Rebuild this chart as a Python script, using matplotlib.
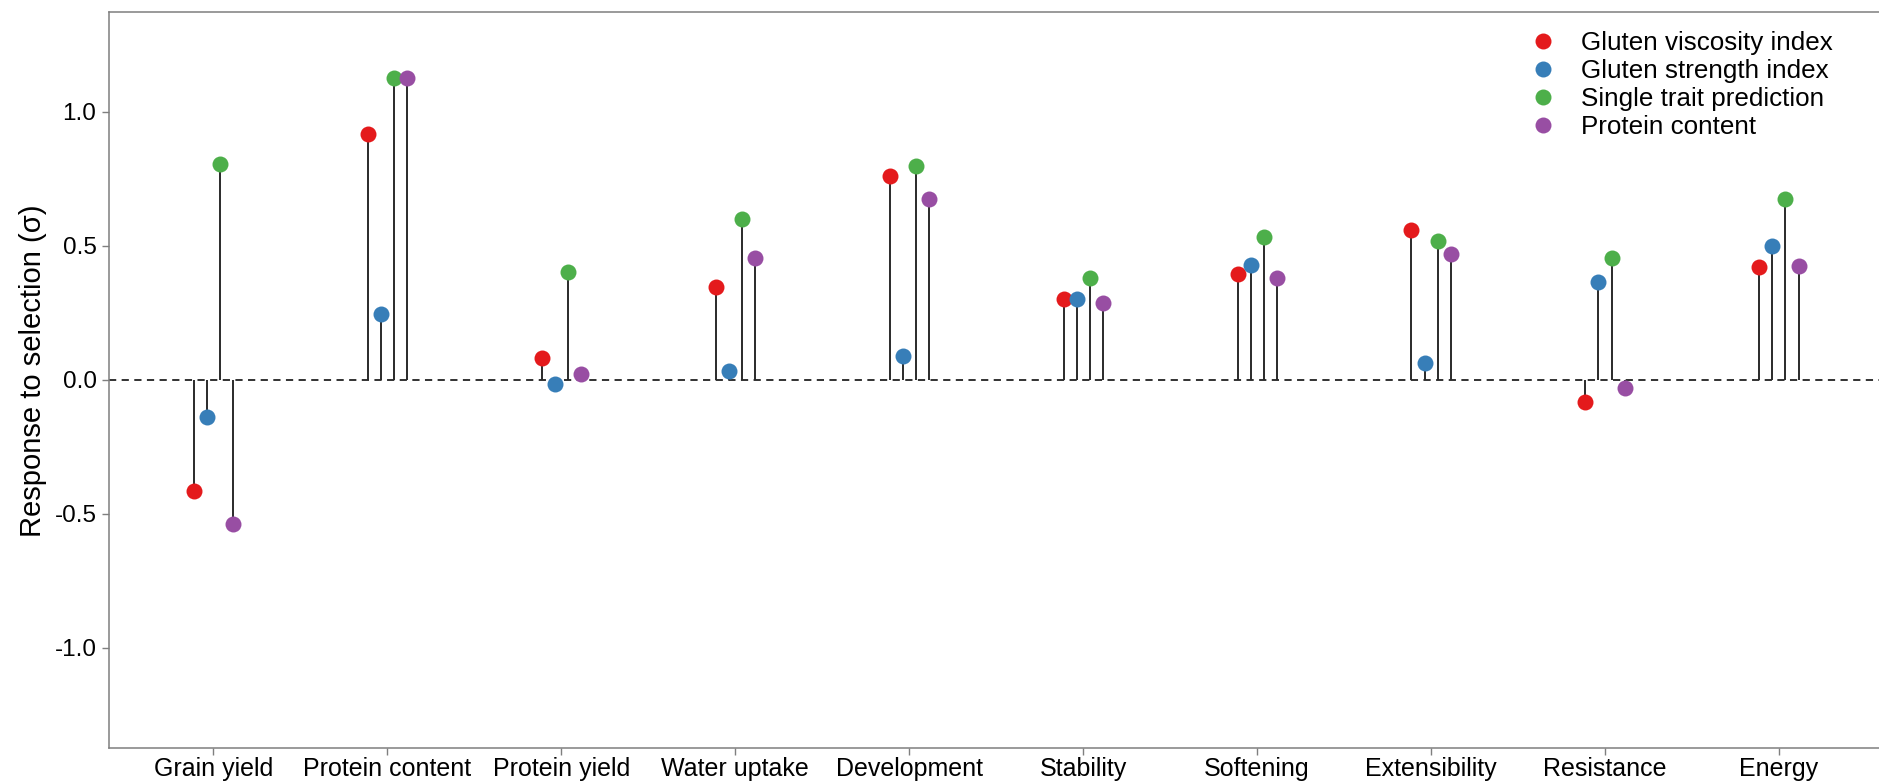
#!/usr/bin/env python3
"""Lollipop chart of response to selection for four indices."""

import numpy as np
import matplotlib
matplotlib.use('Agg')
import matplotlib.pyplot as plt
from matplotlib.lines import Line2D

traits = ['Grain yield', 'Protein content', 'Protein yield', 'Water uptake',
          'Development', 'Stability', 'Softening', 'Extensibility',
          'Resistance', 'Energy']

series = ['Gluten viscosity index', 'Gluten strength index',
          'Single trait prediction', 'Protein content']

viscosity = [-0.415, 0.915, 0.080, 0.344, 0.759, 0.300, 0.393, 0.558, -0.085, 0.420]
strength = [-0.138, 0.246, -0.018, 0.031, 0.089, 0.300, 0.429, 0.062, 0.366, 0.500]
single = [0.804, 1.125, 0.400, 0.598, 0.799, 0.380, 0.531, 0.518, 0.455, 0.674]
protein = [-0.540, 1.125, 0.022, 0.455, 0.674, 0.286, 0.380, 0.469, -0.031, 0.424]

colors = ['#E41A1C', '#377EB8', '#4DAF4A', '#984EA3']


def main():
    plt.rcParams['font.family'] = ['Liberation Sans', 'DejaVu Sans']

    fig = plt.figure(figsize=(18.79, 7.83), dpi=100)
    ax = fig.add_axes([109 / 1879, 1 - 748 / 783, 1 - 109 / 1879, (748 - 12) / 783])

    x = np.arange(1, len(traits) + 1)
    offsets = np.array([-1.5, -0.5, 0.5, 1.5]) * 0.075

    ax.axhline(0, color='#222222', lw=1.3, ls=(0, (4, 3)), zorder=1)

    for vals, col, off in zip([viscosity, strength, single, protein], colors, offsets):
        xs = x + off
        ax.vlines(xs, 0, vals, color='#2a2a2a', lw=1.4, zorder=2)
        ax.plot(xs, vals, 'o', color=col, ms=11.5, mew=0, zorder=3)

    ax.set_xlim(0.4, 10.575)
    ax.set_ylim(-1.375, 1.372)
    ax.set_xticks(x)
    ax.set_xticklabels(traits)
    ax.set_yticks([-1.0, -0.5, 0.0, 0.5, 1.0])
    ax.set_yticklabels(['-1.0', '-0.5', '0.0', '0.5', '1.0'])
    ax.tick_params(colors='#7f7f7f', labelcolor='black', length=5, width=1)
    ax.tick_params(axis='x', labelsize=18, pad=1.5)
    ax.tick_params(axis='y', labelsize=17.5, pad=4)
    ax.set_ylabel('Response to selection (σ)', fontsize=21, va='center')
    ax.yaxis.set_label_coords(-0.043, 0.512)

    for side in ['left', 'top', 'bottom']:
        ax.spines[side].set_color('#7f7f7f')
        ax.spines[side].set_linewidth(1.1)
    ax.spines['right'].set_visible(False)

    handles = [Line2D([], [], ls='none', marker='o', ms=11.5, mew=0, color=c) for c in colors]
    fig.legend(handles, series, loc='upper left',
               bbox_to_anchor=(1531 / 1879, 1 - 31 / 783),
               bbox_transform=fig.transFigure, frameon=False, fontsize=18.7,
               handlelength=0.93, handletextpad=1.0, labelspacing=0.15,
               borderpad=0, borderaxespad=0)

    fig.savefig('out.png', dpi=100)


if __name__ == '__main__':
    main()
